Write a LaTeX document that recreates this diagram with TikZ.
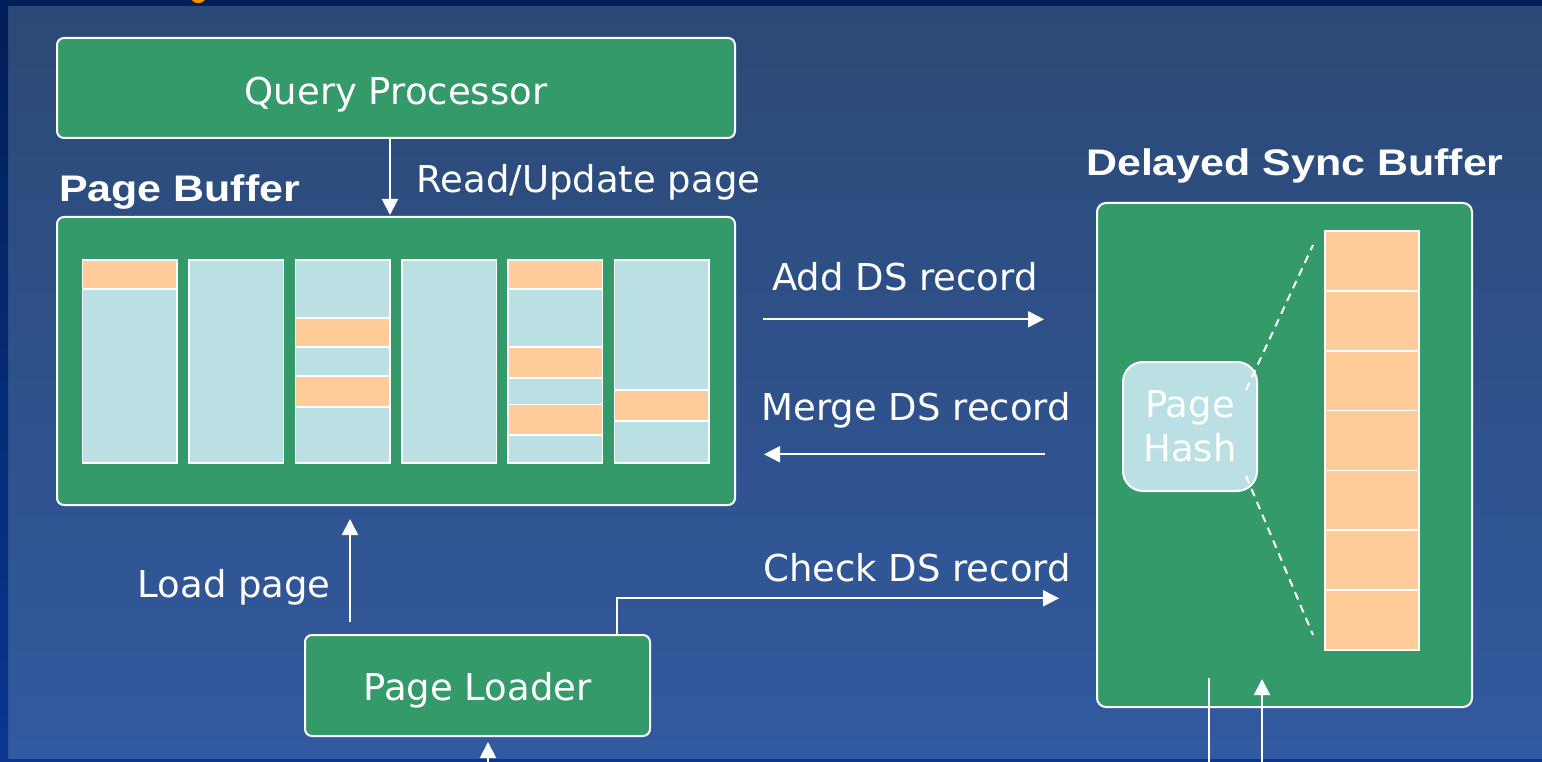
\documentclass[tikz,border=0pt]{standalone}
\usepackage{fontspec}
\setmainfont{DejaVu Sans}
\newfontfamily\hdfont{Liberation Sans}
\usetikzlibrary{arrows.meta}

\definecolor{bgtop}{RGB}{43,73,117}
\definecolor{bgbot}{RGB}{50,90,160}
\definecolor{navyA}{RGB}{0,30,88}
\definecolor{navyB}{RGB}{11,54,144}
\definecolor{boxgreen}{RGB}{53,154,105}
\definecolor{cellblue}{RGB}{187,224,227}
\definecolor{cellorange}{RGB}{255,204,153}
\definecolor{titleorange}{RGB}{255,140,0}

\newcommand\dslbl{\fontsize{37}{44.5}\selectfont}
\newcommand\dshead[1]{\scalebox{1.16}[1]{\hdfont\bfseries\fontsize{37}{42}\selectfont #1}}

\begin{document}
\begin{tikzpicture}[x=1pt,y=-1pt,
  greenbox/.style={draw=white, line width=2pt, fill=boxgreen, rounded corners=7pt,
    inner sep=0pt, outer sep=0pt, text=white, font=\dslbl, text height=27pt, text depth=0pt},
  hashbox/.style={draw=white, line width=2pt, fill=cellblue, rounded corners=20pt,
    inner sep=0pt, outer sep=0pt, text=white, font=\dslbl, align=center},
  cell/.style={draw=white, line width=1.8pt},
  arr/.style={draw=white, line width=2pt, -{Triangle[length=16pt,width=16pt]}},
  plain/.style={draw=white, line width=2pt},
  dashline/.style={draw=white, line width=2pt, dash pattern=on 8pt off 6pt},
  lbltext/.style={text=white, font=\dslbl, inner sep=0pt, anchor=base west},
  headtext/.style={text=white, inner sep=0pt, anchor=base west}]

\useasboundingbox (0,0) rectangle (1542,762);

% slide background and frame
\shade[top color=bgtop, bottom color=bgbot] (0,0) rectangle (1542,762);
\fill[navyB] (0,759) rectangle (1542,762);
\shade[top color=navyA, bottom color=navyB] (0,0) rectangle (8,762);
\fill[navyA] (0,0) rectangle (1542,6);
\fill[titleorange] (191.5,0) .. controls (195,4.5) and (202,4) .. (205,0) -- cycle;

% main blocks
\node[greenbox, minimum width=678pt, minimum height=100pt] (qp) at (396,88) {\raisebox{-3pt}{Query Processor}};
\node[greenbox, minimum width=678pt, minimum height=288pt] (pb) at (396,361) {};
\node[greenbox, minimum width=345pt, minimum height=101pt] (pl) at (477.5,685.5) {\raisebox{-1pt}{Page Loader}};
\node[greenbox, rounded corners=9pt, minimum width=375pt, minimum height=504pt] (dsb) at (1284.5,455) {};

% page buffer frames
\foreach \x in {82.5,189,295.5,402,508,614.5}
  \filldraw[cell, fill=cellblue] (\x,260) rectangle ++(94.5,203);
\filldraw[cell, fill=cellorange] (82.5,260) rectangle ++(94.5,29.3);
\filldraw[cell, fill=cellorange] (295.5,318.3) rectangle ++(94.5,28.4);
\filldraw[cell, fill=cellorange] (295.5,376) rectangle ++(94.5,30.7);
\filldraw[cell, fill=cellorange] (508,260) rectangle ++(94.5,29.3);
\filldraw[cell, fill=cellorange] (508,346.7) rectangle ++(94.5,31);
\filldraw[cell, fill=cellorange] (508,404.5) rectangle ++(94.5,30.5);
\filldraw[cell, fill=cellorange] (614.5,390) rectangle ++(94.5,31);

% delayed sync record list
\foreach \i in {0,...,6}
  \filldraw[cell, fill=cellorange] (1325,{231+59.86*\i}) rectangle ++(94,59.86);

% page hash and its fan-out
\node[hashbox, minimum width=134pt, minimum height=129pt] (ph) at (1190,426.5) {\raisebox{-2pt}{Page}\\\raisebox{-2pt}{Hash}};
\coordinate (fanA) at (1246,390);
\coordinate (fanB) at (1313,245);
\coordinate (fanC) at (1246,476);
\coordinate (fanD) at (1313,635);
\draw[dashline] (fanA) -- (fanB);
\draw[dashline] (fanC) -- (fanD);

% connectors
\coordinate (rdx) at (390,0);
\draw[arr, shorten >=2pt] (rdx |- qp.south) -- (rdx |- pb.north);

\coordinate (addL) at (763,319.3);
\coordinate (addR) at (1044,319.3);
\draw[arr] (addL) -- (addR);

\coordinate (mrgR) at (1045,454.3);
\coordinate (mrgL) at (764,454.3);
\draw[arr] (mrgR) -- (mrgL);

\coordinate (chkC) at (617,598.3);
\coordinate (chkR) at (1059,598.3);
\draw[arr] (chkC |- pl.north) -- (chkC) -- (chkR);

\coordinate (ldB) at (350,622);
\draw[arr, shorten >=14pt] (ldB) -- (ldB |- pb.south);

\coordinate (plIn) at (488,762);
\draw[arr, shorten >=6pt] (plIn) -- (plIn |- pl.south);

\coordinate (dsOutT) at (1209,678);
\coordinate (dsOutB) at (1209,762);
\draw[plain] (dsOutT) -- (dsOutB);

\coordinate (dsInB) at (1262,762);
\coordinate (dsInT) at (1262,679);
\draw[arr] (dsInB) -- (dsInT);

% labels
\node[headtext] (pbl) at (59,201.7) {\dshead{Page Buffer}};
\node[headtext] (dsbl) at (1086,176) {\dshead{Delayed Sync Buffer}};
\node[lbltext] (rul) at (416.5,193) {Read/Update page};
\node[lbltext] (addl) at (772,290.7) {Add DS record};
\node[lbltext] (mrgl) at (761.5,420.7) {Merge DS record};
\node[lbltext] (chkl) at (763,581.7) {Check DS record};
\node[lbltext] (ldl) at (137.5,597) {Load page};

\end{tikzpicture}
\end{document}
